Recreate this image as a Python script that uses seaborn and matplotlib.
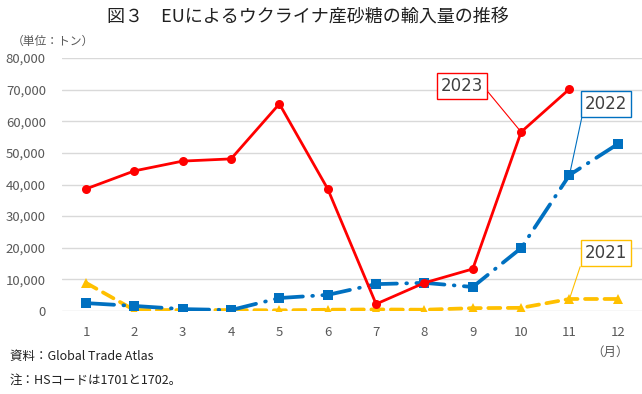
import numpy as np
import pandas as pd
import matplotlib
matplotlib.use("Agg")
import matplotlib.pyplot as plt
import seaborn as sns

months = [1, 2, 3, 4, 5, 6, 7, 8, 9, 10, 11, 12]
month_labels = ["1", "2", "3", "4", "5", "6", "7", "8", "9", "10", "11", "12"]
y2021 = [8900, 300, 300, 300, 200, 400, 500, 400, 900, 1000, 3800, 3800]
y2022 = [2500, 1600, 600, 300, 4100, 5100, 8500, 8900, 7600, 19900, 43000, 52800]
y2023 = [38600, 44300, 47400, 48100, 65500, 38600, 2200, 8900, 13300, 56600, 70200, np.nan]
yticks = [0, 10000, 20000, 30000, 40000, 50000, 60000, 70000, 80000]

sns.set_theme(style="white")
plt.rcParams['font.family'] = ['Noto Sans CJK JP', 'DejaVu Sans']

fig = plt.figure(figsize=(6.42, 3.94), dpi=100)
ax = fig.add_axes([61.8/642, 1-311/394, (642-61.8)/642, (311-58)/394])

df = pd.DataFrame({"month": months, "2021": y2021, "2022": y2022, "2023": y2023})

c21, c22, c23 = "#FFC000", "#0070C0", "#FF0000"

sns.lineplot(data=df, x="month", y="2021", ax=ax, color=c21, lw=2.7,
             marker="^", markersize=7.5, markeredgewidth=0,
             dashes=False)
ax.lines[-1].set_linestyle((0, (3.2, 2.0)))
ax.lines[-1].set_dash_capstyle("round")

sns.lineplot(data=df, x="month", y="2022", ax=ax, color=c22, lw=2.7,
             marker="s", markersize=6.5, markeredgewidth=0)
ax.lines[-1].set_linestyle((0, (7.5, 2.5, 0.2, 2.5)))
ax.lines[-1].set_dash_capstyle("round")

sns.lineplot(data=df, x="month", y="2023", ax=ax, color=c23, lw=2.0,
             marker="o", markersize=6.5, markeredgewidth=0)

ax.set_xlim(0.5, 12.5)
ax.set_ylim(0, 80000)
ax.set_yticks(yticks)
ax.set_yticklabels([f"{v:,}" for v in yticks])
ax.set_xticks(months)
ax.set_xticklabels(month_labels)
ax.set_xlabel("")
ax.set_ylabel("")
for s in ax.spines.values():
    s.set_visible(False)
ax.grid(axis="y", color="#D9D9D9", lw=1.0)
ax.grid(axis="x", visible=False)
ax.set_axisbelow(True)
ax.tick_params(axis="both", length=0, labelsize=9.5, colors="#595959")
ax.tick_params(axis="x", pad=11)
ax.tick_params(axis="y", pad=11.5)

def px2d(px, py):
    return ((px - 61.8) / 48.36 + 0.5, (311 - py) / 3.1625 * 1000)

# annotations
ann = [
    ("2023", c23, (462, 86), (10, y2023[9]), (1, 0.5)),
    ("2022", c22, (606, 104), (11, y2022[10]), (0, 0.5)),
    ("2021", c21, (606, 253), (11, y2021[10]), (0, 0.5)),
]
for txt, col, tp, xy, rp in ann:
    ax.annotate(txt, xy=xy, xytext=px2d(*tp), ha="center", va="center",
                fontsize=12, color="#404040", family=["DejaVu Sans"],
                bbox=dict(boxstyle="square,pad=0.25", fc="white", ec=col, lw=1.0),
                arrowprops=dict(arrowstyle="-", color=col, lw=0.8,
                                shrinkA=0, shrinkB=0, relpos=rp),
                annotation_clip=False, zorder=5)

fig.text(308/642, 1-18/394, "図３　EUによるウクライナ産砂糖の輸入量の推移",
         ha="center", va="center", fontsize=13, color="#202020")
fig.text(12/642, 1-41/394, "（単位：トン）", ha="left", va="center",
         fontsize=8.5, color="#595959")
fig.text(610/642, 1-352/394, "（月）", ha="center", va="center",
         fontsize=9, color="#595959")
fig.text(10/642, 1-356/394, "資料：Global Trade Atlas", ha="left", va="center",
         fontsize=9, color="#202020")
fig.text(10/642, 1-380/394, "注：HSコードは1701と1702。", ha="left", va="center",
         fontsize=9, color="#202020")

fig.savefig("out.png", dpi=100)
